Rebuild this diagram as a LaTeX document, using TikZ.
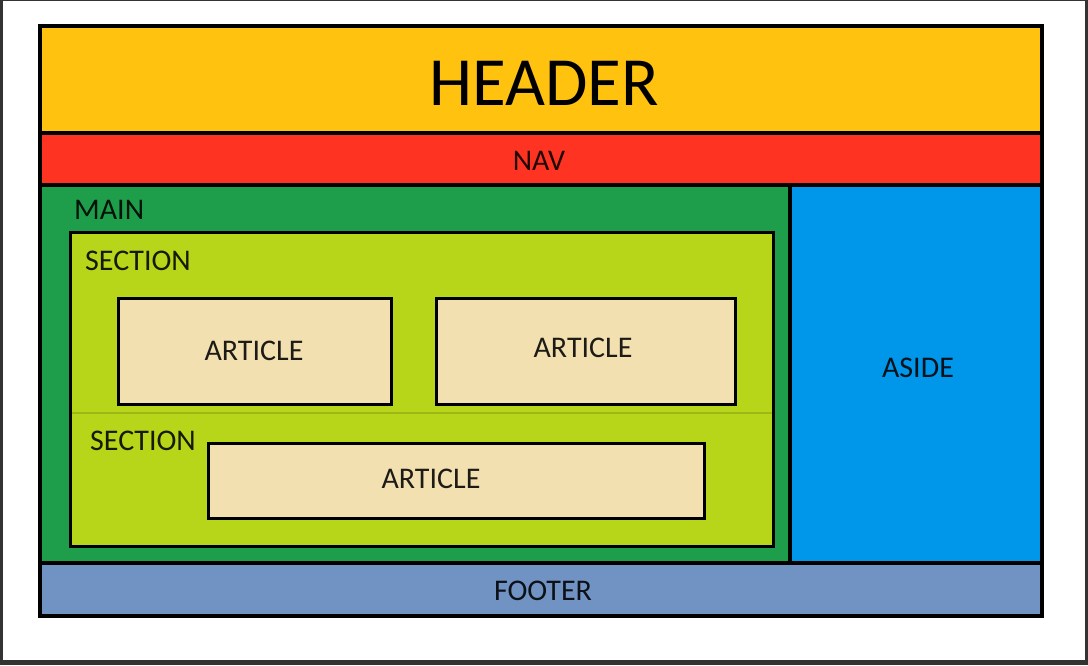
\documentclass[tikz,border=0pt]{standalone}
\usepackage{fontspec}
\setmainfont{Carlito}
\definecolor{frameg}{HTML}{333333}
\definecolor{hdr}{HTML}{FFC20E}
\definecolor{navc}{HTML}{FF3322}
\definecolor{mainc}{HTML}{1E9E4B}
\definecolor{asidec}{HTML}{0096EA}
\definecolor{footc}{HTML}{7093C3}
\definecolor{secc}{HTML}{B8D619}
\definecolor{artc}{HTML}{F2E0B0}
\definecolor{divc}{HTML}{9DB815}
\begin{document}
\begin{tikzpicture}[x=1pt,y=-1pt,
  box/.style={draw=black,line width=4pt,inner sep=0pt,outer sep=0pt,anchor=north west},
  inbox/.style={draw=black,line width=3pt,inner sep=0pt,outer sep=0pt,anchor=north west},
  lbl/.style={font=\fontsize{30}{30}\selectfont,text=black,text opacity=0.88,inner sep=0pt}]
\fill[frameg] (0,0) rectangle (1088,665);
\fill[white] (3,1) rectangle (1085,660);
\useasboundingbox (0,0) rectangle (1088,665);
% regions
\node[box,fill=hdr,minimum width=1002pt,minimum height=107pt] (header) at (40,26) {};
\node[box,fill=navc,minimum width=1002pt,minimum height=52pt] (nav) at (40,133) {};
\node[box,fill=mainc,minimum width=750pt,minimum height=378pt] (main) at (40,185) {};
\node[box,fill=asidec,minimum width=252pt,minimum height=378pt] (aside) at (790,185) {};
\node[box,fill=footc,minimum width=1002pt,minimum height=53pt] (footer) at (40,563) {};
\node[inbox,fill=secc,minimum width=703pt,minimum height=314pt] (section) at (70,232) {};
\coordinate (divl) at (72,413);
\coordinate (divr) at (772,413);
\draw[divc,line width=1.5pt] (divl) -- (divr);
\node[inbox,fill=artc,minimum width=273pt,minimum height=106pt] (art1) at (118,298) {};
\node[inbox,fill=artc,minimum width=299pt,minimum height=106pt] (art2) at (436,298) {};
\node[inbox,fill=artc,minimum width=496pt,minimum height=75pt] (art3) at (208,443) {};
% labels
\node[font=\fontsize{69}{69}\selectfont,text=black,inner sep=0pt] (theader) at (544,83) {HEADER};
\node[lbl] (tnav) at (539,161) {NAV};
\node[lbl,anchor=west] (tmain) at (74,210) {MAIN};
\node[lbl,anchor=west] (tsec1) at (85,261) {SECTION};
\node[lbl,anchor=west] (tsec2) at (90,441) {SECTION};
\node[lbl] (tart1) at (254,351) {ARTICLE};
\node[lbl] (tart2) at (583,348) {ARTICLE};
\node[lbl] (tart3) at (431,479) {ARTICLE};
\node[lbl] (taside) at (918,368) {ASIDE};
\node[lbl] (tfoot) at (543,591) {FOOTER};
\end{tikzpicture}
\end{document}
